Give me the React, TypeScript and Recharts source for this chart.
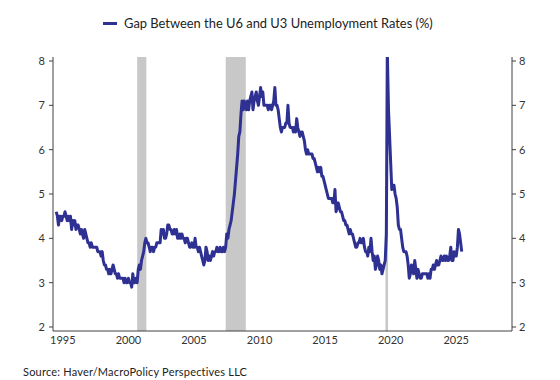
import React from 'react';
import { LineChart, Line, XAxis, YAxis, ReferenceArea } from 'recharts';

const startYear = 1995;
// Monthly gap (U6 minus U3), Jan 1995 .. Dec 2025
const gapValues: number[] = [
  // 1995
  4.6, 4.5, 4.3, 4.5, 4.5, 4.4, 4.5, 4.5, 4.6, 4.5, 4.4, 4.5,
  // 1996
  4.4, 4.5, 4.2, 4.4, 4.3, 4.4, 4.2, 4.3, 4.3, 4.2, 4.1, 4.2,
  // 1997
  4.1, 4.0, 4.2, 4.1, 4.0, 3.9, 3.9, 3.8, 3.9, 3.8, 3.8, 3.8,
  // 1998
  3.8, 3.8, 3.7, 3.7, 3.7, 3.6, 3.7, 3.5, 3.4, 3.4, 3.3, 3.3,
  // 1999
  3.2, 3.3, 3.2, 3.3, 3.4, 3.3, 3.2, 3.2, 3.1, 3.2, 3.1, 3.1,
  // 2000
  3.1, 3.1, 3.0, 3.1, 3.0, 3.0, 3.1, 3.0, 3.0, 2.9, 3.2, 3.0,
  // 2001
  3.0, 3.1, 3.0, 3.3, 3.4, 3.3, 3.5, 3.6, 3.7, 3.9, 4.0, 3.9,
  // 2002
  3.9, 3.8, 3.7, 3.8, 3.8, 3.7, 3.8, 3.8, 3.9, 3.9, 3.9, 3.9,
  // 2003
  4.2, 4.1, 4.2, 4.0, 4.0, 4.1, 4.3, 4.3, 4.2, 4.2, 4.1, 4.1,
  // 2004
  4.2, 4.1, 4.2, 4.0, 4.0, 4.1, 4.0, 4.1, 4.0, 4.0, 3.9, 4.0,
  // 2005
  4.0, 3.9, 3.8, 3.8, 3.9, 3.8, 3.8, 4.0, 3.8, 3.8, 3.7, 3.8,
  // 2006
  3.7, 3.6, 3.5, 3.4, 3.5, 3.8, 3.7, 3.5, 3.6, 3.5, 3.6, 3.7,
  // 2007
  3.6, 3.7, 3.7, 3.8, 3.7, 3.7, 3.8, 3.7, 3.7, 3.8, 3.7, 3.8,
  // 2008
  4.1, 4.0, 4.2, 4.3, 4.4, 4.6, 4.8, 5.0, 5.3, 5.6, 5.9, 6.3,
  // 2009
  6.4, 6.8, 7.1, 6.9, 7.1, 7.0, 6.9, 7.1, 6.9, 7.1, 7.2, 7.3,
  // 2010
  6.9, 7.1, 7.2, 7.3, 7.1, 7.0, 7.2, 7.4, 7.2, 7.3, 7.0, 7.0,
  // 2011
  7.0, 7.0, 6.9, 7.0, 7.0, 6.9, 7.0, 7.1, 7.4, 7.0, 7.0, 6.9,
  // 2012
  6.7, 6.5, 6.4, 6.5, 6.5, 6.5, 6.6, 6.6, 7.0, 6.6, 6.5, 6.5,
  // 2013
  6.5, 6.4, 6.5, 6.4, 6.7, 6.5, 6.4, 6.3, 6.4, 6.4, 6.3, 6.2,
  // 2014
  6.0, 5.9, 6.0, 5.9, 5.9, 5.9, 5.9, 5.8, 5.8, 5.7, 5.6, 5.5,
  // 2015
  5.6, 5.5, 5.6, 5.4, 5.4, 5.3, 5.2, 5.1, 5.0, 4.9, 4.9, 4.9,
  // 2016
  4.9, 4.8, 4.8, 5.1, 4.6, 4.7, 4.8, 4.7, 4.6, 4.6, 4.5, 4.4,
  // 2017
  4.4, 4.3, 4.3, 4.2, 4.1, 4.2, 4.1, 4.1, 4.0, 3.9, 3.8, 3.8,
  // 2018
  3.9, 3.9, 4.0, 3.9, 3.9, 4.0, 3.8, 3.7, 3.7, 3.6, 3.8, 3.7,
  // 2019
  4.0, 3.7, 3.5, 3.6, 3.3, 3.4, 3.6, 3.5, 3.3, 3.4, 3.2, 3.3,
  // 2020
  3.4, 3.5, 4.1, 8.1, 6.9, 6.3, 5.7, 5.1, 5.2, 5.2, 5.0, 4.9,
  // 2021
  4.7, 4.3, 4.2, 4.2, 4.0, 3.8, 3.7, 3.7, 3.7, 3.6, 3.4, 3.1,
  // 2022
  3.2, 3.4, 3.3, 3.2, 3.5, 3.3, 3.1, 3.3, 3.2, 3.1, 3.1, 3.2,
  // 2023
  3.2, 3.2, 3.2, 3.2, 3.1, 3.2, 3.1, 3.3, 3.3, 3.4, 3.3, 3.4,
  // 2024
  3.5, 3.4, 3.4, 3.5, 3.6, 3.5, 3.5, 3.6, 3.5, 3.6, 3.5, 3.5,
  // 2025
  3.6, 3.8, 3.5, 3.5, 3.7, 3.6, 3.6, 3.8, 4.2, 4.1, 3.9, 3.7,
];

const yTicks = [2, 3, 4, 5, 6, 7, 8];
const xTickYears = [1995, 2000, 2005, 2010, 2015, 2020, 2025];
const recessionStart = [2001.17, 2007.92, 2020.1];
const recessionEnd = [2001.87, 2009.45, 2020.3];
const seriesName = 'Gap Between the U6 and U3 Unemployment Rates (%)';
const sourceText = 'Source: Haver/MacroPolicy Perspectives LLC';

const LINE_COLOR = '#2e3192';
const AXIS_COLOR = '#404040';
const FONT = 'Lato, "Open Sans", sans-serif';

const data = gapValues.map((v, i) => ({ t: startYear + i / 12, v }));
const xTicks = xTickYears.map((y) => y + 0.5);

export default function App() {
  return (
    <div style={{ position: 'absolute', left: 0, top: 0, width: 560, height: 380, background: '#fff', fontFamily: FONT }}>
      <LineChart
        width={560}
        height={380}
        data={data}
        margin={{ top: 57, right: 8, bottom: 29, left: 0 }}
      >
        <XAxis
          dataKey="t"
          type="number"
          domain={[1994.75, 2029.75]}
          ticks={xTicks}
          tickFormatter={(v: number) => String(Math.floor(v))}
          tickLine={false}
          tickSize={0}
          tickMargin={5}
          height={20}
          axisLine={{ stroke: AXIS_COLOR, strokeWidth: 1 }}
          tick={{ fill: '#333', fontSize: 11, fontFamily: FONT }}
          allowDataOverflow
        />
        <YAxis
          yAxisId="left"
          orientation="left"
          domain={[1.91, 8.09]}
          ticks={yTicks}
          width={53}
          tickSize={4}
          tickMargin={4}
          axisLine={{ stroke: AXIS_COLOR, strokeWidth: 1 }}
          tickLine={{ stroke: AXIS_COLOR }}
          tick={{ fill: '#333', fontSize: 11, fontFamily: FONT }}
          allowDataOverflow
        />
        <YAxis
          yAxisId="right"
          orientation="right"
          domain={[1.91, 8.09]}
          ticks={yTicks}
          width={40}
          tickSize={4}
          tickMargin={3}
          axisLine={{ stroke: AXIS_COLOR, strokeWidth: 1 }}
          tickLine={{ stroke: AXIS_COLOR }}
          tick={{ fill: '#333', fontSize: 11, fontFamily: FONT }}
          allowDataOverflow
        />
        {recessionStart.map((s, i) => (
          <ReferenceArea
            key={i}
            yAxisId="left"
            x1={s}
            x2={recessionEnd[i]}
            fill="#c8c8c8"
            fillOpacity={1}
            stroke="none"
            ifOverflow="hidden"
          />
        ))}
        <Line
          yAxisId="left"
          dataKey="v"
          name={seriesName}
          stroke={LINE_COLOR}
          strokeWidth={3}
          dot={false}
          activeDot={false}
          isAnimationActive={false}
          strokeLinejoin="round"
        />
      </LineChart>
      <div style={{ position: 'absolute', left: 103, top: 14, display: 'flex', alignItems: 'center', whiteSpace: 'nowrap' }}>
        <div style={{ width: 14, height: 3, background: LINE_COLOR, marginRight: 7 }} />
        <span style={{ fontSize: 12.9, color: '#222', lineHeight: '18px', fontFamily: FONT }}>{seriesName}</span>
      </div>
      <div style={{ position: 'absolute', left: 23, top: 364, fontSize: 11, letterSpacing: 0.2, color: '#222', lineHeight: '16px', fontFamily: FONT }}>
        {sourceText}
      </div>
    </div>
  );
}
